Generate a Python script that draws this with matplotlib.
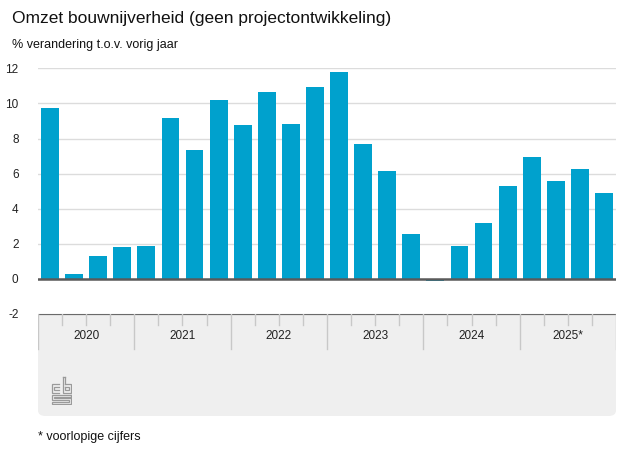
import matplotlib
matplotlib.use('Agg')
import matplotlib.pyplot as plt
from matplotlib.patches import FancyBboxPatch, Rectangle
import numpy as np

plt.rcParams['font.family'] = ['Liberation Sans', 'DejaVu Sans']
plt.rcParams['axes.unicode_minus'] = False

# data: kwartaalcijfers, % verandering t.o.v. vorig jaar
years = ['2020', '2021', '2022', '2023', '2024', '2025*']
values = [9.75, 0.3, 1.3, 1.8,
          1.9, 9.15, 7.35, 10.2,
          8.75, 10.65, 8.85, 10.95,
          11.8, 7.7, 6.15, 2.55,
          -0.1, 1.9, 3.2, 5.3,
          6.95, 5.6, 6.25, 4.9]
yticks = [-2, 0, 2, 4, 6, 8, 10, 12]

W, H = 627, 470
BLUE = '#00a1cd'
PANEL = '#efefef'

fig = plt.figure(figsize=(W / 100, H / 100), dpi=100)


def fx(px):
    return px / W


def fy(py):
    return 1 - py / H


# main axes: x 38..616 px, y 68..314 px
x0, x1 = 38, 616
ytop, ybot = 68.3, 314
ax = fig.add_axes([fx(x0), fy(ybot), fx(x1) - fx(x0), fy(ytop) - fy(ybot)])
n = len(values)
x = np.arange(n)
ax.bar(x, values, width=0.74, color=BLUE, zorder=3)
ax.set_xlim(-0.5, n - 0.5)
ax.set_ylim(-2, 12)
ax.set_yticks(yticks)
ax.yaxis.grid(True, color='#dcdcdc', linewidth=1.0, zorder=0)
ax.axhline(0, color='#5a5a5a', linewidth=1.8, zorder=4)
for s in ax.spines.values():
    s.set_visible(False)
ax.set_xticks([])
ax.tick_params(axis='y', length=0, pad=14, labelsize=8.5, labelcolor='#222222')
for lab in ax.get_yticklabels():
    lab.set_horizontalalignment('right')

# grey category panel with rounded bottom corners
pbot = 416
fig.patches.append(FancyBboxPatch((fx(x0), fy(pbot)), fx(x1) - fx(x0), fy(ybot) - fy(pbot),
                                  boxstyle='round,pad=0,rounding_size=0.012',
                                  transform=fig.transFigure, facecolor=PANEL,
                                  edgecolor='none', zorder=-1))
fig.patches.append(Rectangle((fx(x0), fy(ybot + 30)), fx(x1) - fx(x0), fy(ybot) - fy(ybot + 30),
                             transform=fig.transFigure, facecolor=PANEL,
                             edgecolor='none', zorder=-1))

pax = fig.add_axes([fx(x0), fy(pbot), fx(x1) - fx(x0), fy(ybot) - fy(pbot)], sharex=ax)
pax.set_zorder(2)
pax.patch.set_visible(False)
pax.set_ylim(pbot - ybot, 0)
for s in pax.spines.values():
    s.set_visible(False)
pax.tick_params(left=False, bottom=False, labelleft=False, labelbottom=False)
pax.axhline(0, color='#6a6a6a', linewidth=1.6)
for k in range(n + 1):
    b = k - 0.5
    if k % 4 == 0:
        pax.plot([b, b], [0, 35], color='#c8c8c8', linewidth=1.0)
    else:
        pax.plot([b, b], [0, 11], color='#c8c8c8', linewidth=1.0)
for i, yr in enumerate(years):
    pax.text(4 * i + 1.5, 22, yr, ha='center', va='center', fontsize=8.5, color='#222222')

# cbs logo, rough line drawing
lax = fig.add_axes([fx(51), fy(405), fx(21), fy(372) - fy(405)])
lax.set_zorder(2)
lax.set_xlim(0, 20)
lax.set_ylim(32, 0)
lax.axis('off')
lc = dict(color='#9a9a9a', linewidth=0.9, solid_joinstyle='miter')
# c
lax.plot([8, 1, 1, 8], [12, 12, 20, 20], **lc)
lax.plot([8, 3, 3, 8], [14.5, 14.5, 17.5, 17.5], **lc)
# b
lax.plot([11, 11, 19, 19, 13], [5, 20, 20, 12, 12], **lc)
lax.plot([13, 13], [5, 12], **lc)
lax.plot([11, 13], [5, 5], **lc)
lax.plot([13.5, 17, 17, 13.5, 13.5], [14.5, 14.5, 17.5, 17.5, 14.5], **lc)
# s
lax.plot([19, 1, 1, 17, 17, 1, 1, 19, 19, 3, 3, 19, 19], [22, 22, 27, 27, 29, 29, 31, 31, 25, 25, 24, 24, 22], **lc)

# titles and note
fig.text(fx(12), fy(18), 'Omzet bouwnijverheid (geen projectontwikkeling)', fontsize=12.5,
         ha='left', va='center', color='#111111')
fig.text(fx(12), fy(45), '% verandering t.o.v. vorig jaar', fontsize=9,
         ha='left', va='center', color='#111111')
fig.text(fx(38), fy(437), '* voorlopige cijfers', fontsize=9,
         ha='left', va='center', color='#111111')

fig.savefig('out.png', dpi=100)
